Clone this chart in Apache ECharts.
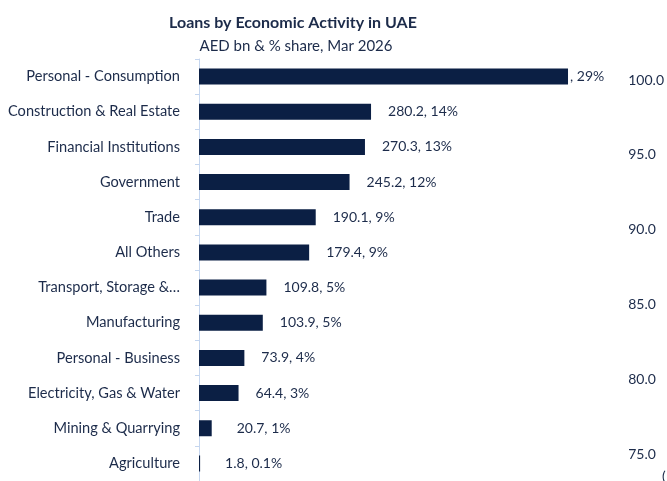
<!DOCTYPE html>
<html><head><meta charset="utf-8">
<script src="https://cdn.jsdelivr.net/npm/echarts@6/dist/echarts.min.js"></script>
<style>html,body{margin:0;padding:0;background:#fff}#c{width:667px;height:481px}</style>
</head><body><div id="c"></div>
<script>
const categories = ["Personal - Consumption","Construction & Real Estate","Financial Institutions","Government","Trade","All Others","Transport, Storage &…","Manufacturing","Personal - Business","Electricity, Gas & Water","Mining & Quarrying","Agriculture"];
const values = [601.0,280.2,270.3,245.2,190.1,179.4,109.8,103.9,73.9,64.4,20.7,1.8];
const shares = ["29%","14%","13%","12%","9%","9%","5%","5%","4%","3%","1%","0.1%"];
const labelTexts = [", 29%","280.2, 14%","270.3, 13%","245.2, 12%","190.1, 9%","179.4, 9%","109.8, 5%","103.9, 5%","73.9, 4%","64.4, 3%","20.7, 1%","1.8, 0.1%"];
const strayTicks = {min:75, max:100, interval:5};

const navy = "#0b1f44";
const txt = "#1c2b4a";
const font = "Lato";
const chart = echarts.init(document.getElementById('c'));
chart.setOption({
  animation:false,
  textStyle:{fontFamily:font},
  title:[
    {text:"Loans by Economic Activity in UAE", left:288, top:10, textAlign:'center',
     textStyle:{fontFamily:font,fontSize:16,fontWeight:'bold',color:txt}},
    {text:"AED bn & % share, Mar 2026", left:291, top:34, textAlign:'center',
     textStyle:{fontFamily:font,fontSize:15,fontWeight:'normal',color:txt}}
  ],
  grid:[
    {left:199, right:97, top:59, bottom:-4, containLabel:false},
    {left:600, right:45, top:80, bottom:27, containLabel:false}
  ],
  xAxis:[
    {type:'value', gridIndex:0, min:0, max:(667-97-199)/0.614, show:false},
    {type:'value', gridIndex:1, show:false}
  ],
  yAxis:[
    {type:'category', gridIndex:0, data:categories, inverse:true,
     axisLine:{show:true,lineStyle:{color:'#c5d6ef',width:1}},
     axisTick:{show:true,length:4,lineStyle:{color:'#c5d6ef'}},
     axisLabel:{color:txt,fontSize:14.6,fontFamily:font,margin:19}},
    {type:'value', gridIndex:1, position:'right', min:strayTicks.min, max:strayTicks.max, interval:strayTicks.interval,
     axisLine:{show:false}, axisTick:{show:false}, splitLine:{show:false},
     axisLabel:{color:txt,fontSize:14,fontFamily:font,margin:8,formatter:v=>v.toFixed(1)}}
  ],
  series:[{
    type:'bar', xAxisIndex:0, yAxisIndex:0,
    data:values.map((v,i)=>({value:v,label:{distance:i===0?2:(v<30?25:17)}})),
    barWidth:16,
    itemStyle:{color:navy},
    label:{show:true, position:'right', color:txt, fontSize:14, fontFamily:font,
      formatter:p=>labelTexts[p.dataIndex]}
  },{
    type:'line', xAxisIndex:1, yAxisIndex:1, data:[], silent:true
  }],
  graphic:[{type:'text', left:662, top:469, style:{text:'(', fill:txt, font:'14px Lato'}}]
});
</script></body></html>
